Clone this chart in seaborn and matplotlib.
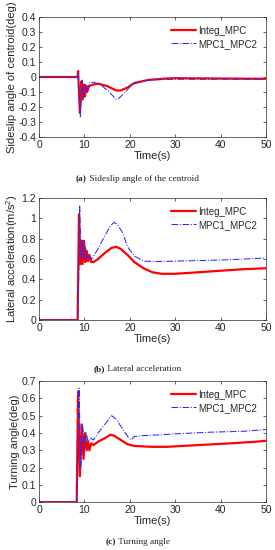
import matplotlib
matplotlib.use("Agg")
import matplotlib.pyplot as plt
import pandas as pd
import seaborn as sns

# ---------------- data ----------------
# (a) sideslip angle of the centroid
t_a_int = [0, 8.5, 8.6, 9.0, 9.3, 9.6, 9.9, 10.1, 10.4, 10.6, 11.0, 12.0, 13.0, 15.0, 17.0,
           18.0, 19.5, 21.0, 24.0, 28.0, 30.0, 40.0, 50.0]
a_int = [0, 0, 0.04, -0.24, -0.03, -0.15, -0.05, -0.13, -0.06, -0.10, -0.06, -0.05, -0.045,
         -0.06, -0.09, -0.09, -0.07, -0.04, -0.02, -0.01, -0.008, -0.01, -0.012]
t_a_mpc = [0, 8.5, 8.6, 9.1, 9.5, 9.8, 10.2, 10.5, 11.0, 12.0, 13.5, 15.5, 17.0, 17.7, 19.0,
           20.5, 23.0, 26.0, 30.0, 50.0]
a_mpc = [0, 0, 0.03, -0.27, -0.02, -0.14, -0.05, -0.10, -0.04, -0.035, -0.05, -0.10, -0.15,
         -0.14, -0.10, -0.05, -0.025, -0.018, -0.015, -0.015]

# (b) lateral acceleration
t_b_int = [0, 8.5, 8.8, 9.1, 9.4, 9.6, 9.9, 10.2, 10.5, 10.8, 11.1, 11.5, 12.0, 13.0, 14.5,
           16.0, 17.0, 18.0, 19.5, 21.0, 23.0, 25.0, 27.0, 30.0, 35.0, 40.0, 45.0, 50.0]
b_int = [0, 0, 1.04, 0.55, 0.78, 0.55, 0.78, 0.57, 0.68, 0.58, 0.64, 0.57, 0.57, 0.60, 0.66,
         0.71, 0.72, 0.70, 0.64, 0.57, 0.51, 0.47, 0.455, 0.455, 0.47, 0.485, 0.50, 0.51]
t_b_mpc = [0, 8.6, 8.95, 9.3, 9.6, 9.9, 10.2, 10.5, 10.8, 11.5, 12.0, 13.0, 14.5, 15.8, 16.5,
           17.3, 18.5, 19.5, 21.0, 23.0, 26.0, 30.0, 40.0, 45.0, 50.0]
b_mpc = [0, 0, 1.13, 0.60, 0.78, 0.60, 0.72, 0.60, 0.65, 0.60, 0.63, 0.70, 0.83, 0.93, 0.96,
         0.94, 0.85, 0.72, 0.63, 0.58, 0.575, 0.58, 0.59, 0.60, 0.61]

# (c) turning angle
t_c_int = [0, 8.3, 8.6, 9.0, 9.4, 9.8, 10.1, 10.5, 10.8, 11.1, 11.5, 12.0, 13.0, 14.5, 15.7,
           16.5, 18.0, 19.5, 21.0, 25.0, 28.0, 35.0, 42.0, 48.0, 50.0]
c_int = [0, 0, 0.64, 0.15, 0.45, 0.25, 0.40, 0.30, 0.35, 0.30, 0.34, 0.33, 0.35, 0.37, 0.39,
         0.385, 0.36, 0.335, 0.325, 0.32, 0.32, 0.33, 0.34, 0.35, 0.355]
t_c_mpc = [0, 8.4, 8.8, 9.2, 9.6, 10.0, 10.4, 10.8, 11.3, 12.0, 13.0, 14.5, 15.7, 16.0, 17.0,
           18.5, 19.8, 20.3, 21.0, 23.0, 27.0, 30.0, 38.0, 45.0, 50.0]
c_mpc = [0, 0, 0.66, 0.20, 0.45, 0.30, 0.40, 0.35, 0.37, 0.36, 0.40, 0.45, 0.49, 0.50, 0.48,
         0.42, 0.37, 0.36, 0.38, 0.385, 0.39, 0.395, 0.405, 0.41, 0.42]

labels = ["Integ_MPC", "MPC1_MPC2"]
ylabels = ["Sideslip angle of centroid(deg)", "Lateral acceleration(m/s$^2$)", "Turning angle(deg)"]
captions = [("(a)", " Sideslip angle of the centroid"),
            ("(b)", " Lateral acceleration"),
            ("(c)", " Turning angle")]
ylims = [(-0.4, 0.4), (0, 1.2), (0, 0.7)]
yticks = [[-0.4, -0.3, -0.2, -0.1, 0, 0.1, 0.2, 0.3, 0.4],
          [0, 0.2, 0.4, 0.6, 0.8, 1, 1.2],
          [0, 0.1, 0.2, 0.3, 0.4, 0.5, 0.6, 0.7]]
ytlabels = [["-0.4", "-0.3", "-0.2", "-0.1", "0", "0.1", "0.2", "0.3", "0.4"],
            ["0", "0.2", "0.4", "0.6", "0.8", "1", "1.2"],
            ["0", "0.1", "0.2", "0.3", "0.4", "0.5", "0.6", "0.7"]]
xticks = [0, 10, 20, 30, 40, 50]

series = [((t_a_int, a_int), (t_a_mpc, a_mpc)),
          ((t_b_int, b_int), (t_b_mpc, b_mpc)),
          ((t_c_int, c_int), (t_c_mpc, c_mpc))]

# ---------------- figure ----------------
sns.set_theme(style="ticks")
plt.rcParams["font.family"] = ["Liberation Sans", "DejaVu Sans"]
plt.rcParams["mathtext.fontset"] = "custom"
plt.rcParams["mathtext.rm"] = "Liberation Sans"

fig = plt.figure(figsize=(2.75, 5.5), dpi=100)
boxes = [[0.142, 0.751, 0.825, 0.218],
         [0.142, 0.418, 0.825, 0.222],
         [0.142, 0.087, 0.825, 0.220]]
cap_y = [0.674, 0.329, 0.0145]
serif = ["Liberation Serif", "DejaVu Serif"]

for i in range(3):
    ax = fig.add_axes(boxes[i])
    (ti, yi), (tm, ym) = series[i]
    df_i = pd.DataFrame({"t": ti, "v": yi})
    df_m = pd.DataFrame({"t": tm, "v": ym})
    sns.lineplot(data=df_i, x="t", y="v", ax=ax, color="#ff0000", linewidth=1.6,
                 label=labels[0], estimator=None, sort=False)
    sns.lineplot(data=df_m, x="t", y="v", ax=ax, color="#2a2aff", linewidth=0.75,
                 linestyle="-.", label=labels[1], estimator=None, sort=False)

    ax.set_xlim(0, 50)
    ax.set_ylim(*ylims[i])
    ax.set_xticks(xticks)
    ax.set_xticklabels([str(x) for x in xticks])
    ax.set_yticks(yticks[i])
    ax.set_yticklabels(ytlabels[i])
    ax.tick_params(direction="in", length=2, width=0.5, labelsize=7.5, pad=2,
                   top=True, right=True, colors="#262626")
    for s in ax.spines.values():
        s.set_linewidth(0.5)
        s.set_color("#262626")
        s.set_visible(True)
    ax.set_xlabel("Time(s)", fontsize=8, labelpad=1)
    ax.set_ylabel(ylabels[i], fontsize=8, labelpad=1)
    ax.legend(loc="upper right", frameon=False, fontsize=7, handlelength=2.6,
              borderaxespad=0.5, labelspacing=0.3, handletextpad=0.2)

# captions: bold panel tag + regular text, centred as one line
renderer = fig.canvas.get_renderer()
for i in range(3):
    t1 = fig.text(0, cap_y[i], captions[i][0], ha="left", va="center", fontsize=6.7,
                  family=serif, fontweight="bold", color="#222222")
    t2 = fig.text(0, cap_y[i], captions[i][1], ha="left", va="center", fontsize=6.7,
                  family=serif, color="#222222")
    w1 = t1.get_window_extent(renderer).width / fig.bbox.width
    w2 = t2.get_window_extent(renderer).width / fig.bbox.width
    x0 = 0.5 - (w1 + w2) / 2
    t1.set_x(x0)
    t2.set_x(x0 + w1)

fig.savefig("out.png", dpi=100)
plt.close(fig)
